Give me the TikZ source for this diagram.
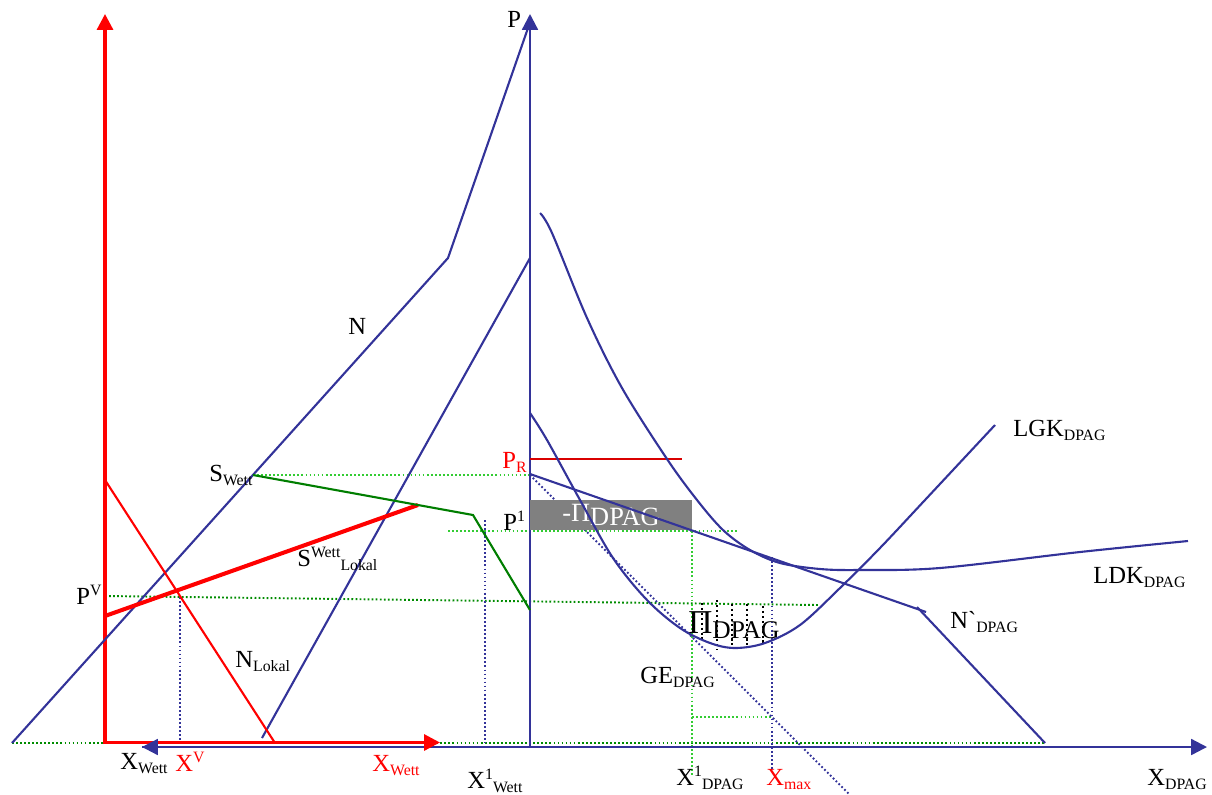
\documentclass[tikz,border=0pt]{standalone}
\usepackage{fontspec}
\setmainfont{Liberation Serif}
\usetikzlibrary{arrows.meta}
\definecolor{dblue}{RGB}{51,51,153}
\definecolor{lgreen}{RGB}{51,204,51}
\definecolor{dgreen}{RGB}{0,140,0}
\newcommand{\lowtxt}[1]{\raisebox{-2.8pt}{\fontsize{9}{10}\selectfont #1}}
\newcommand{\hightxt}[1]{\raisebox{4.8pt}{\fontsize{9}{10}\selectfont #1}}

\begin{document}
\begin{tikzpicture}[x=0.02cm, y=-0.02cm,
    every node/.style={font=\fontsize{14}{16}\selectfont, inner sep=0pt, anchor=base west},
    tip/.style={-{Triangle[length=9pt,width=9pt]}},
    curve/.style={dblue, line width=1.2pt},
    axis/.style={dblue, line width=1.3pt, tip},
    redaxis/.style={red, line width=1.8pt, tip},
    dots/.style={dash pattern=on 1pt off 1.3pt, line width=1.1pt}]
    \useasboundingbox (0,0) rectangle (1212,794);
    % dotted guide lines
    \draw[dots, dgreen] (12,743) -- (1045,743);
    \draw[dots, lgreen] (253,475) -- (530,475);
    \draw[dots, lgreen] (448,531) -- (738,531);
    \draw[dots, dgreen] (105,596) -- (818,605);
    \draw[dots, lgreen] (692,531) -- (692,777);
    \draw[dots, lgreen] (692,717) -- (772,717);
    \draw[dots, dblue] (180,597) -- (180,743);
    \draw[dots, dblue] (485,520) -- (485,743);
    \draw[dots, dblue] (772,557) -- (772,770);
    \draw[dots, dblue] (530,475) -- (850,795);
    % axes
    \coordinate (O) at (530,747);
    \coordinate (Ored) at (105,742.5);
    \draw[axis] (142,747) -- (1207,747);
    \draw[axis] (O) -- (530,14);
    \draw[redaxis] (105,744) -- (105,14);
    \draw[redaxis] (Ored) -- (440,742.5);
    \draw[axis] (166,747) -- (142,747);
    \node (p) at (507,28) {P};
    % profit box
    \foreach \x/\ya/\yb in {702/603/640, 717/600/650, 732/604/648, 747/604/648, 763/606/645}
        \draw[dots, black, dash pattern=on 1.2pt off 1.6pt] (\x,\ya) -- (\x,\yb);
    \node[fill=gray, text=white, minimum width=3.24cm, minimum height=0.6cm, anchor=center] (loss) at (611,515)
        {\fontsize{15}{17}\selectfont -Π\raisebox{-2.5pt}{DPAG}};
    % demand and supply lines
    \draw[curve] (12,743) -- (448,258) -- (528,28);
    \draw[curve] (262,738) -- (530,258);
    \draw[red, line width=1.2pt] (105,480) -- (275,743);
    \draw[red, line width=2.3pt] (105,616) -- (418,505);
    \draw[dgreen!90!black, line width=1.2pt] (253,475) -- (473,515) -- (530,610);
    \draw[red!85!black, line width=1.3pt] (530,459) -- (682,459);
    \draw[curve] (530,474) -- (926,612);
    \draw[curve] (917,607) -- (1045,743);
    % cost curves
    \draw[curve] plot[smooth, tension=0.55] coordinates {(540,213) (552,233) (587,318) (622,388)
        (667,459) (697,500) (723,530) (750,550) (780,563) (820,569) (860,570) (940,568)
        (1080,552) (1188,541)};
    \draw[curve] plot[smooth, tension=0.55] coordinates {(530,413) (547,440) (580,500) (613,558)
        (647,600) (680,628) (710,643) (735,648) (765,643) (800,625) (840,588) (880,548)
        (925,500) (995,425)};
    % labels
    \node (n) at (348,334) {N};
    \node (nlok) at (235,667) {N\lowtxt{Lokal}};
    \node (swett) at (209,481) {S\lowtxt{Wett}};
    \node (slok) at (297,566) {S\hightxt{Wett}\lowtxt{Lokal}};
    \node (pv) at (76,604) {P\hightxt{V}};
    \node[red] (pr) at (502,468) {P\lowtxt{R}};
    \node (p1) at (503,530) {P\hightxt{1}};
    \node (lgk) at (1013,436) {LGK\lowtxt{DPAG}};
    \node (ldk) at (1093,583) {LDK\lowtxt{DPAG}};
    \node (nstr) at (950,628) {N\textasciigrave\lowtxt{DPAG}};
    \node (ge) at (640,683) {GE\lowtxt{DPAG}};
    \node (gain) at (688,633) {\fontsize{19}{21}\selectfont Π\raisebox{-3pt}{\fontsize{14.5}{16}\selectfont DPAG}};
    \node (xw) at (120,769) {X\lowtxt{Wett}};
    \node[red] (xv) at (175,771) {X\hightxt{V}};
    \node[red] (xwr) at (372,771) {X\lowtxt{Wett}};
    \node (x1w) at (467,788) {X\hightxt{1}\lowtxt{Wett}};
    \node (x1d) at (676,785) {X\hightxt{1}\lowtxt{DPAG}};
    \node[red] (xmax) at (766,785) {X\lowtxt{max}};
    \node (xd) at (1147,785) {X\lowtxt{DPAG}};
\end{tikzpicture}
\end{document}
